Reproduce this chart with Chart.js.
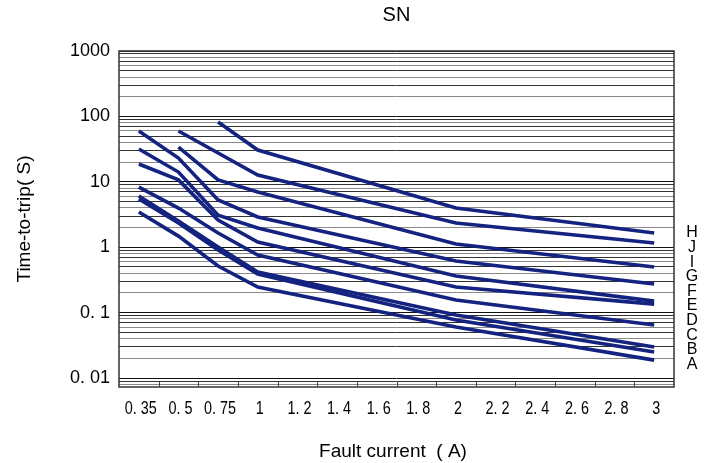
<!DOCTYPE html>
<html>
<head>
<meta charset="utf-8">
<script src="https://cdn.jsdelivr.net/npm/chart.js@4/dist/chart.umd.min.js"></script>
<style>
  html, body { margin: 0; padding: 0; background: #fff; }
  #wrap { width: 714px; height: 463px; }
</style>
</head>
<body>
<div id="wrap"><canvas id="tripChart" width="714" height="463"></canvas></div>
<script>
// categories on the x axis (text as printed)
const categories = ['0. 35', '0. 5', '0. 75', '1', '1. 2', '1. 4', '1. 6', '1. 8', '2', '2. 2', '2. 4', '2. 6', '2. 8', '3'];

// curve names, top to bottom as listed at the right
const seriesNames = ['H', 'J', 'I', 'G', 'F', 'E', 'D', 'C', 'B', 'A'];

// time-to-trip (s); null = no point at that current
const curveH = [null, null, 82, 30.6, null, null, null, null, 3.97, null, null, null, null, 1.65];
const curveJ = [null, 59.8, 27.6, 12.7, null, null, null, null, 2.34, null, null, null, null, 1.16];
const curveI = [null, 34.0, 10.7, 6.98, null, null, null, null, 1.12, null, null, null, null, 0.50];
const curveG = [59.8, 23.1, 5.27, 2.90, null, null, null, null, 0.615, null, null, null, null, 0.274];
const curveF = [31.7, 14.1, 3.10, 1.97, null, null, null, null, 0.363, null, null, null, null, 0.150];
const curveE = [18.7, 10.7, 2.61, 1.20, null, null, null, null, 0.246, null, null, null, null, 0.135];
const curveD = [8.32, 3.97, 1.65, 0.760, null, null, null, null, 0.156, null, null, null, null, 0.0646];
const curveC = [6.07, 2.52, 1.01, 0.418, null, null, null, null, 0.0919, null, null, null, null, 0.0298];
const curveB = [5.46, 2.34, 0.906, 0.389, null, null, null, null, 0.0771, null, null, null, null, 0.0250];
const curveA = [3.45, 1.48, 0.516, 0.246, null, null, null, null, 0.0602, null, null, null, null, 0.0188];

// y tick labels at each decade
const decadeValues = [0.01, 0.1, 1, 10, 100, 1000];
const decadeLabels = ['0. 01', '0. 1', '1', '10', '100', '1000'];

const curves = [curveH, curveJ, curveI, curveG, curveF, curveE, curveD, curveC, curveB, curveA];
const lineColor = '#14237f';
const baseFont = "'Liberation Sans', Arial, sans-serif";

// texts drawn around the plot, inward ticks and frame
const decorPlugin = {
  id: 'decor',
  afterDraw(chart) {
    const { ctx, chartArea: a, scales } = chart;
    const xs = scales.x;
    ctx.save();
    // frame
    ctx.strokeStyle = '#333';
    ctx.lineWidth = 1.5;
    ctx.strokeRect(a.left, a.top, a.right - a.left, a.bottom - a.top);

    // inward tick marks between categories
    ctx.lineWidth = 1;
    ctx.strokeStyle = '#444';
    for (let i = 1; i < categories.length; i++) {
      const px = Math.round((xs.getPixelForValue(i - 1) + xs.getPixelForValue(i)) / 2) + 0.5;
      ctx.beginPath();
      ctx.moveTo(px, a.bottom);
      ctx.lineTo(px, a.bottom - 6);
      ctx.stroke();
    }

    ctx.fillStyle = '#000';
    ctx.textAlign = 'center';
    ctx.textBaseline = 'middle';

    // x tick labels, condensed like the printed ones
    ctx.font = '18px ' + baseFont;
    categories.forEach((lab, i) => {
      ctx.save();
      ctx.translate(xs.getPixelForValue(i) + 2, 409);
      ctx.scale(0.8, 1);
      ctx.fillText(lab, 0, 0);
      ctx.restore();
    });

    ctx.font = '20px ' + baseFont;
    ctx.fillText('SN', (a.left + a.right) / 2, 15);

    ctx.font = '19px ' + baseFont;
    ctx.fillText('Fault current  ( A)', 393, 452);

    ctx.save();
    ctx.translate(25, 219);
    ctx.rotate(-Math.PI / 2);
    ctx.fillText('Time-to-trip( S)', 0, 0);
    ctx.restore();

    // curve letters stacked at the right
    ctx.font = '16px ' + baseFont;
    seriesNames.forEach((name, i) => {
      ctx.fillText(name, 692, 233 + i * 14.6);
    });
    ctx.restore();
  }
};

new Chart(document.getElementById('tripChart'), {
  type: 'line',
  data: {
    labels: categories,
    datasets: curves.map((data, i) => ({
      label: seriesNames[i],
      data: data,
      borderColor: lineColor,
      borderWidth: 3.6,
      pointRadius: 0,
      tension: 0,
      spanGaps: true,
      fill: false
    }))
  },
  options: {
    responsive: false,
    animation: false,
    devicePixelRatio: 1,
    layout: { padding: { top: 51, right: 40, left: 0, bottom: 0 } },
    plugins: {
      legend: { display: false },
      title: { display: false },
      tooltip: { enabled: false }
    },
    scales: {
      x: {
        type: 'category',
        offset: true,
        grid: { display: false },
        border: { display: false },
        ticks: { display: false },
        afterFit(scale) { scale.height = 76; }
      },
      y: {
        type: 'logarithmic',
        min: 0.0073,
        max: 1000,
        border: { display: false },
        grid: {
          drawTicks: false,
          lineWidth: 1,
          color: (c) => {
            const v = c.tick ? c.tick.value : 1;
            const m = Math.round(v / Math.pow(10, Math.floor(Math.log10(v) + 1e-9)));
            if (m === 1) return '#111';
            return (m % 2 === 1) ? '#333' : '#8a8a8a';
          }
        },
        ticks: {
          color: '#000',
          font: { family: baseFont, size: 18 },
          padding: 9,
          autoSkip: false,
          callback: (v) => {
            const idx = decadeValues.findIndex(d => Math.abs(d - v) / d < 1e-6);
            return idx >= 0 ? decadeLabels[idx] : '';
          }
        },
        afterBuildTicks(scale) {
          const ticks = [];
          for (let e = -3; e <= 3; e++) {
            for (let m = 1; m <= 9; m++) {
              const v = Number((m * Math.pow(10, e)).toPrecision(3));
              if (v >= scale.min && v <= scale.max) ticks.push({ value: v });
            }
          }
          scale.ticks = ticks;
        },
        afterFit(scale) { scale.width = 119; }
      }
    }
  },
  plugins: [decorPlugin]
});
</script>
</body>
</html>
